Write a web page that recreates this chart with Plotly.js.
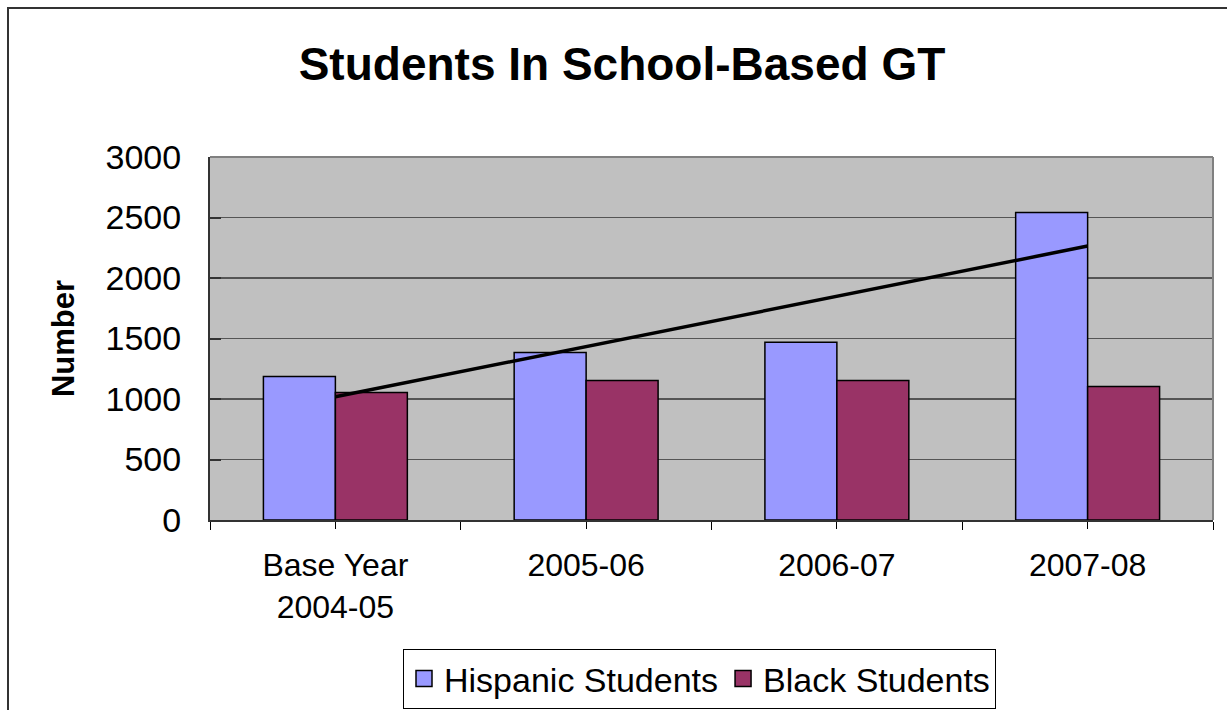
<!DOCTYPE html>
<html>
<head>
<meta charset="utf-8">
<script src="https://cdn.plot.ly/plotly-3.0.1.min.js"></script>
<style>
  html, body { margin: 0; padding: 0; background: #fff; overflow: hidden; }
  #chart { width: 1227px; height: 710px; }
</style>
</head>
<body>
<div id="chart"></div>
<script>
// ---- data ----
const categories = ["Base Year<br>2004-05", "2005-06", "2006-07", "2007-08"];
const hispanic = [1185, 1384, 1470, 2542];
const black = [1053, 1152, 1152, 1103];
const trendCats = [0, 3];          // trendline spans first to last category
const trendValues = [1018, 2264];
const yTicks = [0, 500, 1000, 1500, 2000, 2500, 3000];

const catIdx = categories.map((_, i) => i);
const FONT = "Liberation Sans, Arial, Helvetica, sans-serif";

const traces = [
  {
    type: "bar", x: catIdx, y: hispanic, name: "Hispanic Students",
    marker: { color: "#9999FF", line: { color: "#000", width: 1.5 } },
    showlegend: false, hoverinfo: "skip"
  },
  {
    type: "bar", x: catIdx, y: black, name: "Black Students",
    marker: { color: "#993366", line: { color: "#000", width: 1.5 } },
    showlegend: false, hoverinfo: "skip"
  },
  {
    type: "scatter", mode: "lines", x: trendCats, y: trendValues,
    line: { color: "#000", width: 3.5 }, showlegend: false, hoverinfo: "skip"
  },
  // legend entries
  {
    type: "scatter", mode: "markers", x: [null], y: [null], name: "Hispanic Students",
    marker: { symbol: "square", size: 16, color: "#9999FF", line: { color: "#000", width: 1.5 } }
  },
  {
    type: "scatter", mode: "markers", x: [null], y: [null], name: "Black Students",
    marker: { symbol: "square", size: 16, color: "#993366", line: { color: "#000", width: 1.5 } }
  }
];

const FW = 1227, FH = 710;
const L = 210, R = 1213, T = 157, B = 520;
const W = R - L, H = B - T;
const px = v => (v - L) / W;
const py = v => (B - v) / H;

const layout = {
  width: FW, height: FH,
  margin: { l: L, r: FW - R, t: T, b: FH - B, pad: 0 },
  paper_bgcolor: "#fff",
  plot_bgcolor: "#C0C0C0",
  font: { family: FONT, color: "#000", size: 32 },
  title: {
    text: "Students In School-Based GT",
    font: { family: FONT, size: 46, weight: "bold", color: "#000" },
    x: 622 / FW, xanchor: "center", xref: "container",
    y: 1 - 64 / FH, yanchor: "middle", yref: "container"
  },
  barmode: "group",
  bargap: 0.426,
  bargroupgap: 0,
  xaxis: {
    type: "linear",
    range: [-0.5, 3.5],
    tickmode: "array", tickvals: catIdx, ticktext: categories,
    ticks: "outside", ticklen: 7, tickwidth: 1, tickcolor: "#000",
    minor: { ticks: "outside", tickmode: "array", tickvals: [-0.5, 0.5, 1.5, 2.5, 3.5], ticklen: 8, tickwidth: 1, tickcolor: "#000", showgrid: false },
    showgrid: false, zeroline: false,
    showline: true, linecolor: "#333", linewidth: 2,
    tickfont: { family: FONT, size: 32, color: "#000" },
    ticklabelstandoff: 9,
    automargin: false,
    fixedrange: true
  },
  yaxis: {
    range: [0, 3000],
    tickmode: "array", tickvals: yTicks,
    ticks: "inside", ticklen: 11, tickwidth: 2, tickcolor: "#333",
    showgrid: true, gridcolor: "#555", gridwidth: 1.5,
    zeroline: false,
    showline: true, linecolor: "#333", linewidth: 2,
    tickfont: { family: FONT, size: 34, color: "#000" },
    ticklabelstandoff: 20,
    title: { text: "Number", font: { family: FONT, size: 31, weight: "bold", color: "#000" }, standoff: 22 },
    automargin: false,
    fixedrange: true
  },
  legend: {
    orientation: "h",
    x: 403 / FW, xanchor: "left", xref: "container",
    y: 1 - 679 / FH, yanchor: "middle", yref: "container",
    bgcolor: "#fff", bordercolor: "#000", borderwidth: 1,
    font: { family: FONT, size: 34, color: "#000" },
    itemclick: false, itemdoubleclick: false
  },
  shapes: [
    // outer chart border
    { type: "rect", xref: "paper", yref: "paper", x0: px(8), x1: px(1300), y0: py(780), y1: py(8),
      line: { color: "#333", width: 2 }, fillcolor: "rgba(0,0,0,0)" },
    // plot area top & right border
    { type: "line", xref: "paper", yref: "paper", x0: 0, x1: 1, y0: 1, y1: 1, line: { color: "#808080", width: 2 } },
    { type: "line", xref: "paper", yref: "paper", x0: 1, x1: 1, y0: 0, y1: 1, line: { color: "#808080", width: 2 } }
  ]
};

Plotly.newPlot("chart", traces, layout, { displayModeBar: false, staticPlot: true });
</script>
</body>
</html>
